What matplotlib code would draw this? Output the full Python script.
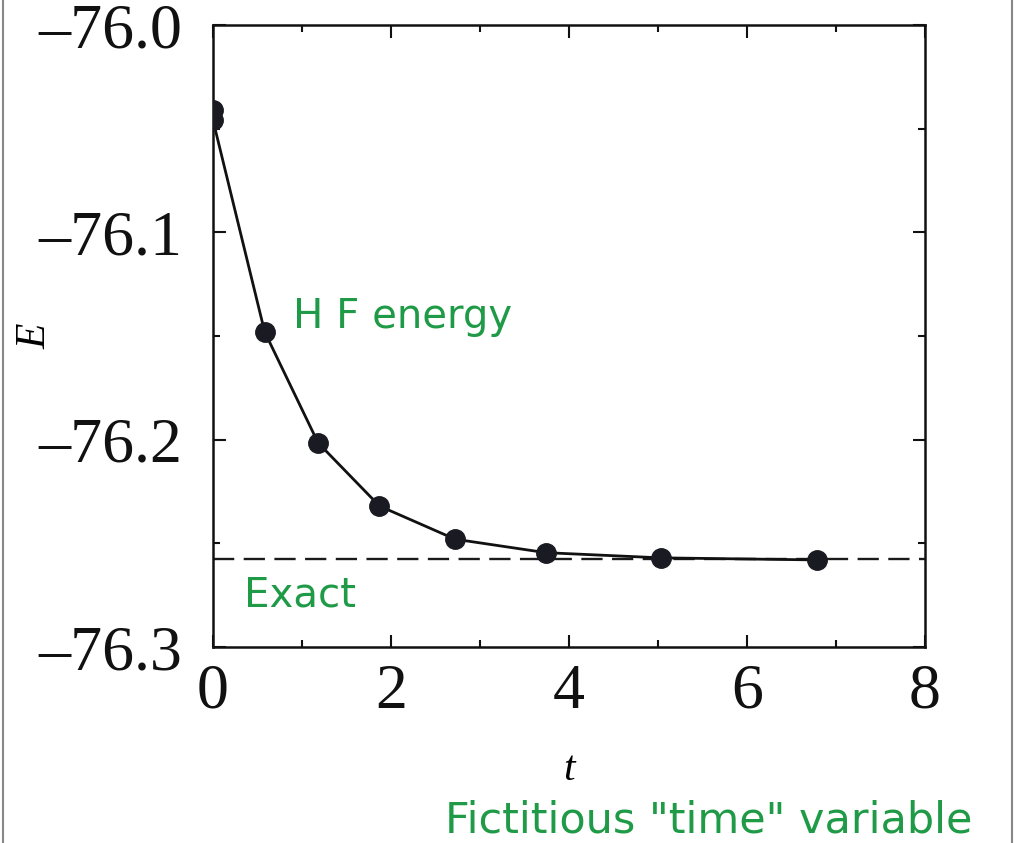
import numpy as np
import matplotlib.pyplot as plt
from matplotlib.ticker import MultipleLocator, FuncFormatter
from matplotlib.patches import Rectangle

# HF energy vs fictitious time
t = [0.0, 0.0, 0.58, 1.18, 1.87, 2.72, 3.74, 5.03, 6.79]
energy = [-76.041, -76.046, -76.148, -76.2015, -76.232, -76.248, -76.2545, -76.257, -76.258]
exact = -76.2577

green = '#1f9a46'
serif = ['Liberation Serif', 'DejaVu Serif']

fig = plt.figure(figsize=(10.15, 8.43), dpi=100)
ax = fig.add_axes([0.2099, 0.2325, 0.7014, 0.7378])

ax.axhline(exact, color='#1a1a1a', lw=1.7, ls=(0, (9, 4)), zorder=1)
ax.plot(t, energy, color='#111111', lw=2.0, marker='o', ms=14,
        mfc='#1a1a22', mec='#1a1a22', zorder=3)

ax.set_xlim(0, 8)
ax.set_ylim(-76.3, -76.0)
ax.xaxis.set_major_locator(MultipleLocator(2))
ax.xaxis.set_minor_locator(MultipleLocator(1))
ax.yaxis.set_major_locator(MultipleLocator(0.1))
ax.yaxis.set_minor_locator(MultipleLocator(0.05))
ax.yaxis.set_major_formatter(FuncFormatter(lambda v, p: ('%.1f' % v).replace('-', '\u2013')))
ax.tick_params(which='both', direction='in', top=True, right=True, width=1.5, colors='#111111')
ax.tick_params(which='major', length=9, labelsize=46)
ax.tick_params(axis='y', which='major', pad=22)
ax.tick_params(axis='x', which='major', pad=12)
ax.tick_params(which='minor', length=5)
for lab in ax.get_xticklabels() + ax.get_yticklabels():
    lab.set_family(serif)
for s in ax.spines.values():
    s.set_linewidth(1.8)
    s.set_color('#111111')

ax.set_xlabel('t', family=serif, style='italic', fontsize=30, va='center', ha='center')
ax.set_ylabel('E', family=serif, style='italic', fontsize=30, va='center', ha='center')
ax.xaxis.set_label_coords(0.5, -0.198)
ax.yaxis.set_label_coords(-0.25, 0.5)

ax.text(0.9, -76.141, 'H F energy', color=green, fontsize=29, ha='left', va='center')
ax.text(0.35, -76.275, 'Exact', color=green, fontsize=29, ha='left', va='center')
fig.text(0.438, 0.027, 'Fictitious "time" variable', color=green, fontsize=31, ha='left', va='center')

fig.patches.append(Rectangle((0.003, -0.01), 0.994, 1.02, transform=fig.transFigure,
                             fill=False, ec='#888888', lw=1.5))

fig.savefig('out.png', dpi=100)
